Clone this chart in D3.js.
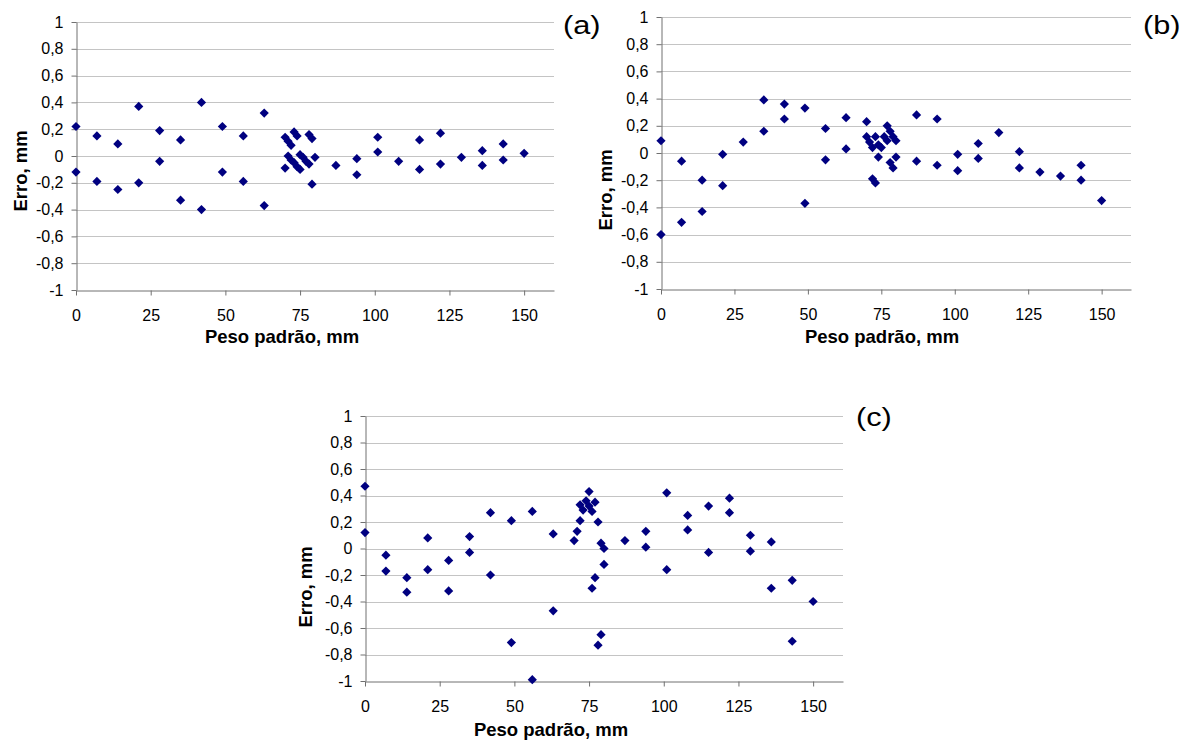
<!DOCTYPE html>
<html>
<head>
<meta charset="utf-8">
<script src="https://cdn.jsdelivr.net/npm/d3@7"></script>
<style>
  html, body { margin: 0; padding: 0; background: #fff; }
  svg { display: block; }
  text { font-family: Arial, "Liberation Sans", sans-serif; fill: #000; }
</style>
</head>
<body>
<script>
// Shared axis definitions
const xTicks = [0, 25, 50, 75, 100, 125, 150];
const yTicks = [-1, -0.8, -0.6, -0.4, -0.2, 0, 0.2, 0.4, 0.6, 0.8, 1];
const xTitle = "Peso padrão, mm";
const yTitle = "Erro, mm";
const panelLabels = ["(a)", "(b)", "(c)"];

// Panel (a)
const pesoA = [0, 0, 7, 7, 14, 14, 21, 21, 28, 28, 35, 35, 42, 42, 49, 49, 56, 56, 63, 63,
  70, 71, 72, 73, 74, 71, 72, 73, 74, 75, 75, 76, 77, 78, 78, 79, 80, 70, 79,
  87, 94, 94, 101, 101, 108, 115, 115, 122, 122, 129, 136, 136, 143, 143, 150];
const erroA = [0.22, -0.12, 0.15, -0.19, 0.09, -0.25, 0.37, -0.20, 0.19, -0.04, 0.12, -0.33, 0.40, -0.40, 0.22, -0.12, 0.15, -0.19, 0.32, -0.37,
  0.14, 0.11, 0.08, 0.18, 0.15, 0.00, -0.03, -0.05, -0.08, -0.10, 0.01, -0.01, -0.04, -0.06, 0.16, 0.13, -0.01, -0.09, -0.21,
  -0.07, -0.02, -0.14, 0.14, 0.03, -0.04, 0.12, -0.10, 0.17, -0.06, -0.01, 0.04, -0.07, 0.09, -0.03, 0.02];

// Panel (b)
const pesoB = [0, 0, 7, 7, 14, 14, 21, 21, 28, 35, 35, 42, 42, 49, 49, 56, 56, 63, 63, 70, 70,
  71, 72, 72, 73, 73, 74, 75, 74, 76, 77, 77, 78, 79, 80, 78, 79, 80,
  87, 87, 94, 94, 101, 101, 108, 108, 115, 122, 122, 129, 136, 143, 143, 150];
const erroB = [0.09, -0.60, -0.06, -0.51, -0.20, -0.43, -0.01, -0.24, 0.08, 0.39, 0.16, 0.36, 0.25, 0.33, -0.37, 0.18, -0.05, 0.26, 0.03, 0.23, 0.12,
  0.08, 0.04, -0.19, -0.22, 0.12, 0.06, 0.04, -0.03, 0.12, 0.09, 0.20, 0.16, 0.12, 0.09, -0.07, -0.11, -0.03,
  0.28, -0.06, 0.25, -0.09, -0.01, -0.13, 0.07, -0.04, 0.15, 0.01, -0.11, -0.14, -0.17, -0.09, -0.20, -0.35];

// Panel (c)
const pesoC = [0, 0, 7, 7, 14, 14, 21, 21, 28, 28, 35, 35, 42, 42, 49, 49, 56, 56, 63, 63,
  70, 71, 72, 72, 73, 74, 75, 75, 76, 77, 78, 79, 80, 80, 77, 76, 79, 78,
  87, 94, 94, 101, 101, 108, 108, 115, 115, 122, 122, 129, 129, 136, 136, 143, 143, 150];
const erroC = [0.47, 0.12, -0.05, -0.17, -0.22, -0.33, 0.08, -0.16, -0.09, -0.32, 0.09, -0.03, 0.27, -0.20, 0.21, -0.71, 0.28, -0.99, 0.11, -0.47,
  0.06, 0.13, 0.21, 0.33, 0.29, 0.36, 0.43, 0.32, 0.28, 0.35, 0.20, 0.04, 0.00, -0.12, -0.22, -0.30, -0.65, -0.73,
  0.06, 0.13, 0.01, 0.42, -0.16, 0.25, 0.14, 0.32, -0.03, 0.38, 0.27, 0.10, -0.02, 0.05, -0.30, -0.24, -0.70, -0.40];

// Layout of each panel (pixel frame and title anchors)
const panels = [
  { peso: pesoA, erro: erroA, label: panelLabels[0],
    left: 76, right: 554, top: 22, bottom: 290,
    labelX: 563, labelY: 34, xTitleX: 282, xTitleY: 343, yTitleX: 27, yTitleY: 171 },
  { peso: pesoB, erro: erroB, label: panelLabels[1],
    left: 661, right: 1131, top: 17, bottom: 289,
    labelX: 1143, labelY: 34, xTitleX: 882, xTitleY: 343, yTitleX: 612, yTitleY: 190 },
  { peso: pesoC, erro: erroC, label: panelLabels[2],
    left: 365, right: 843, top: 416, bottom: 681,
    labelX: 856, labelY: 426, xTitleX: 551, xTitleY: 736, yTitleX: 312, yTitleY: 587 }
];

const fmt = d => {
  const v = Math.round(d * 10) / 10;
  return (v === 0 ? "0" : String(v)).replace(".", ",");
};

const svg = d3.select("body").append("svg")
  .attr("width", 1183).attr("height", 740);

panels.forEach(p => {
  const g = svg.append("g");
  const x = d3.scaleLinear().domain([0, 160]).range([p.left, p.right]);
  const y = d3.scaleLinear().domain([-1, 1]).range([p.bottom, p.top]);
  const crisp = v => Math.round(v) + 0.5;

  // horizontal gridlines
  g.append("g").selectAll("line")
    .data(yTicks.filter(d => d !== -1))
    .join("line")
    .attr("x1", p.left).attr("x2", p.right)
    .attr("y1", d => crisp(y(d))).attr("y2", d => crisp(y(d)))
    .attr("stroke", "#c4c4c4").attr("stroke-width", 1);

  // y axis
  const yAxis = g.append("g")
    .attr("transform", `translate(${Math.round(p.left) + 0.5},0)`)
    .call(d3.axisLeft(y).tickValues(yTicks).tickSize(5).tickSizeOuter(0).tickPadding(8).tickFormat(fmt));
  yAxis.select(".domain").attr("stroke", "#707070");
  yAxis.selectAll(".tick line").attr("stroke", "#707070");
  yAxis.selectAll(".tick text")
    .style("font-size", "16px").style("font-family", "Arial, 'Liberation Sans', sans-serif").attr("fill", "#000");

  // x axis
  const xAxis = g.append("g")
    .attr("transform", `translate(0,${Math.round(p.bottom) + 0.5})`)
    .call(d3.axisBottom(x).tickValues(xTicks).tickSize(5).tickSizeOuter(0).tickPadding(14).tickFormat(d3.format("d")));
  xAxis.select(".domain").attr("stroke", "#707070");
  xAxis.selectAll(".tick line").attr("stroke", "#707070");
  xAxis.selectAll(".tick text")
    .style("font-size", "16px").style("font-family", "Arial, 'Liberation Sans', sans-serif").attr("fill", "#000");

  // markers
  const half = 4.6;
  const diamond = `M0,${-half}L${half},0L0,${half}L${-half},0Z`;
  g.append("g").selectAll("path")
    .data(p.peso.map((v, i) => [v, p.erro[i]]))
    .join("path")
    .attr("d", diamond)
    .attr("transform", d => `translate(${x(d[0])},${y(d[1])})`)
    .attr("fill", "#000080");

  // titles
  g.append("text")
    .attr("x", p.xTitleX).attr("y", p.xTitleY)
    .attr("text-anchor", "middle")
    .style("font-size", "18.5px").style("font-weight", "bold")
    .text(xTitle);
  g.append("text")
    .attr("transform", `translate(${p.yTitleX},${p.yTitleY}) rotate(-90)`)
    .attr("text-anchor", "middle")
    .style("font-size", "18.5px").style("font-weight", "bold")
    .text(yTitle);
  g.append("text")
    .attr("transform", `translate(${p.labelX},${p.labelY}) scale(1.18,1)`)
    .style("font-size", "26px")
    .text(p.label);
});
</script>
</body>
</html>
